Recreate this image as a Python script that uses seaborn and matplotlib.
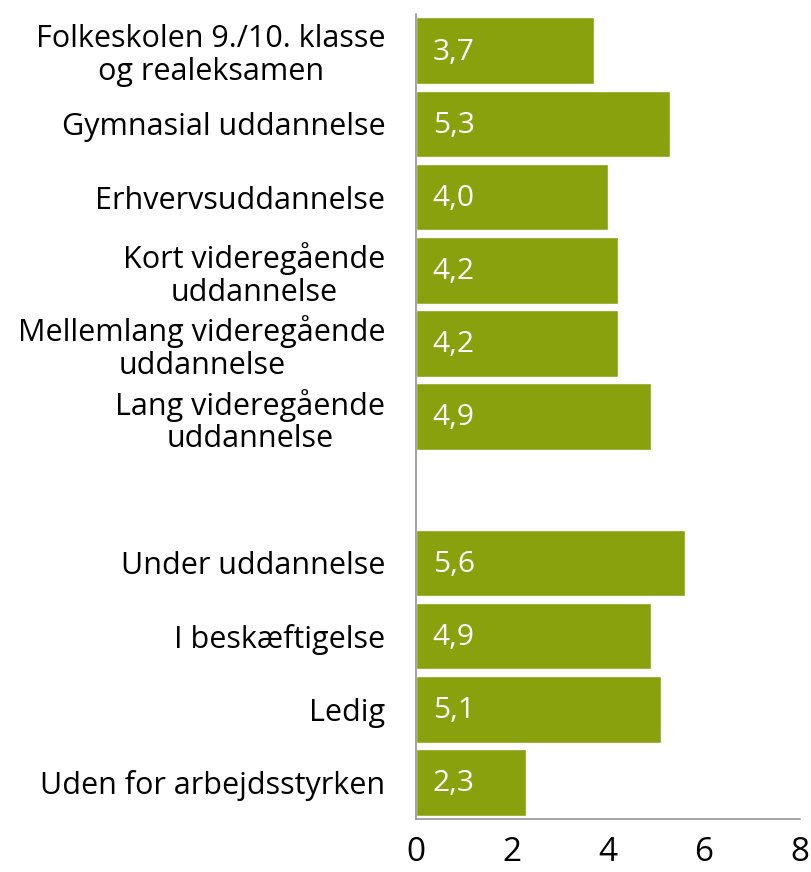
"""Gennemsnit efter uddannelse og beskæftigelse - vandret søjlediagram."""
import matplotlib
matplotlib.use("Agg")
import matplotlib.pyplot as plt
import numpy as np
import pandas as pd
import seaborn as sns

CATEGORIES = [
    "Folkeskolen 9./10. klasse\nog realeksamen",
    "Gymnasial uddannelse",
    "Erhvervsuddannelse",
    "Kort videregående\nuddannelse",
    "Mellemlang videregående\nuddannelse",
    "Lang videregående\nuddannelse",
    " ",
    "Under uddannelse",
    "I beskæftigelse",
    "Ledig",
    "Uden for arbejdsstyrken",
]
VALUES = [3.7, 5.3, 4.0, 4.2, 4.2, 4.9, np.nan, 5.6, 4.9, 5.1, 2.3]
X_TICKS = [0, 2, 4, 6, 8]

BAR_COLOR = "#88A10D"
AXIS_COLOR = "#8C8C8C"

sns.set_theme(style="white")
plt.rcParams["font.family"] = ["Open Sans", "DejaVu Sans"]
plt.rcParams["font.weight"] = "medium"
plt.rcParams["text.color"] = "black"
plt.rcParams["xtick.labelcolor"] = "black"
plt.rcParams["ytick.labelcolor"] = "black"

df = pd.DataFrame({"kategori": CATEGORIES, "vaerdi": VALUES})

fig = plt.figure(figsize=(8.11, 8.72), dpi=100)
ax = fig.add_axes([0.513, 0.0608, 0.4735, 0.923])

sns.barplot(data=df, x="vaerdi", y="kategori", order=CATEGORIES, color=BAR_COLOR,
            saturation=1, width=0.91, ax=ax, orient="h")

ax.set_xlim(0, 8)
ax.set_ylim(len(CATEGORIES) - 0.5, -0.5)
ax.set_xticks(X_TICKS)
ax.set_xticklabels([str(t) for t in X_TICKS], fontsize=24)
ax.set_xlabel("")
ax.set_ylabel("")

ax.set_yticks(range(len(CATEGORIES)))
ax.set_yticklabels(CATEGORIES, fontsize=22, multialignment="center", linespacing=1.1)
ax.set_yticks(np.arange(-0.5, len(CATEGORIES), 1), minor=True)
ax.tick_params(axis="y", which="major", length=0, pad=22)
ax.tick_params(axis="y", which="minor", length=6, width=1.1, color=AXIS_COLOR, direction="out")
ax.tick_params(axis="x", length=7, width=1.1, color=AXIS_COLOR, direction="out", pad=5)

for side in ["top", "right"]:
    ax.spines[side].set_visible(False)
for side in ["left", "bottom"]:
    ax.spines[side].set_color(AXIS_COLOR)
    ax.spines[side].set_linewidth(1.1)

for i, v in enumerate(VALUES):
    if np.isnan(v):
        continue
    ax.annotate(f"{v:.1f}".replace(".", ","), xy=(0, i), xytext=(12, -1),
                textcoords="offset points", ha="left", va="center",
                color="white", fontsize=21.5)

fig.savefig("out.png", dpi=100)
